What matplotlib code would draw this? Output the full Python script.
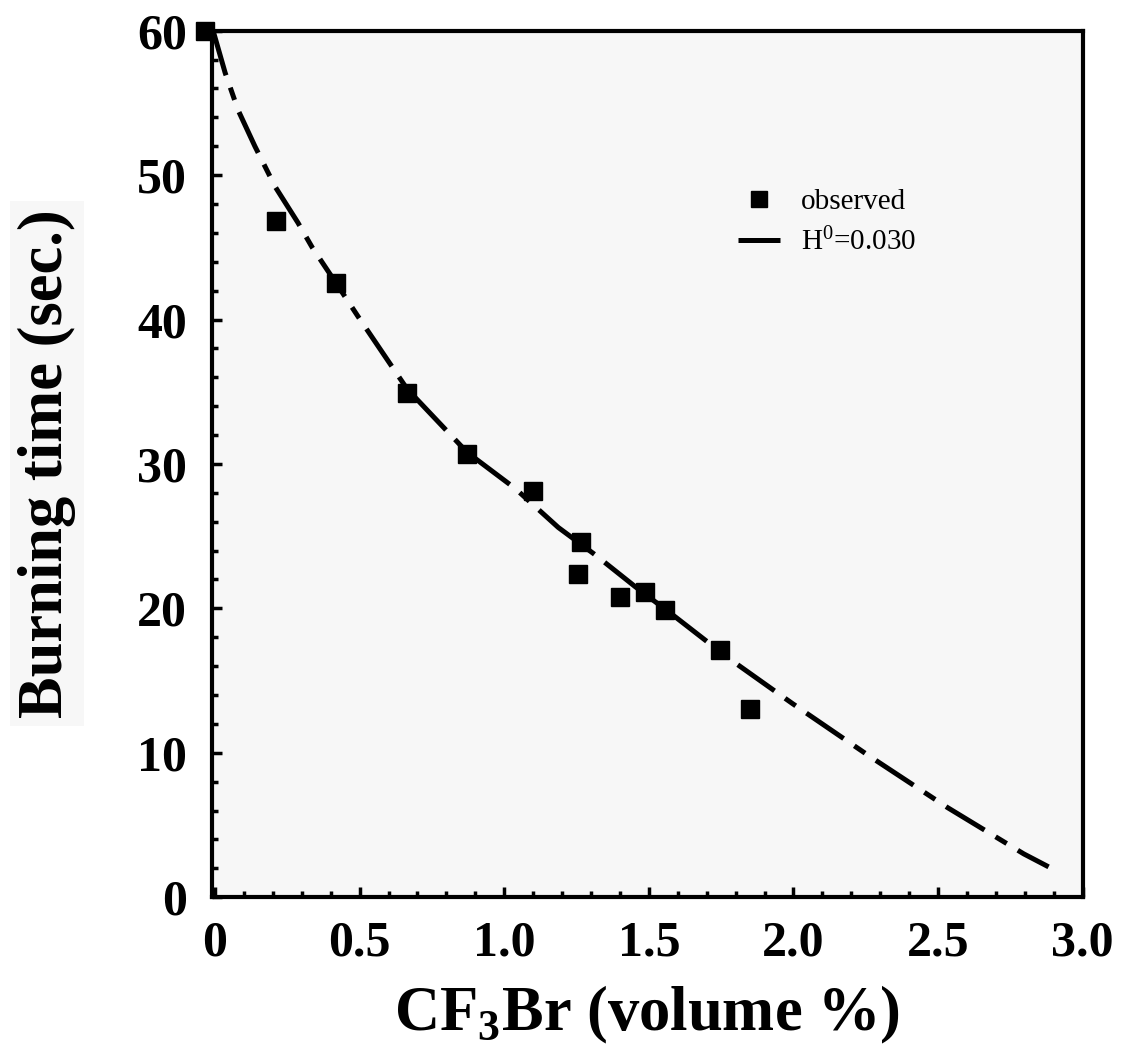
import matplotlib
matplotlib.use("Agg")
import matplotlib.pyplot as plt
from matplotlib.ticker import MultipleLocator, FixedLocator

# ---- data ----
obs_x = [-0.035, 0.211, 0.419, 0.664, 0.872, 1.100, 1.266, 1.256, 1.401, 1.488, 1.557, 1.747, 1.851]
obs_y = [60.0, 46.8, 42.5, 34.9, 30.7, 28.1, 24.6, 22.4, 20.8, 21.1, 19.9, 17.1, 13.0]

fit_x = [-0.005, 0.035, 0.080, 0.138, 0.208, 0.287, 0.336, 0.426, 0.495, 0.664, 0.872,
         1.038, 1.187, 1.315, 1.453, 1.592, 1.772, 1.997, 2.260, 2.533, 2.796, 2.882]
fit_y = [59.9, 57.1, 54.5, 52.0, 49.2, 46.7, 45.0, 42.3, 40.2, 35.2, 30.8,
         28.3, 25.6, 23.7, 21.5, 19.4, 16.6, 13.4, 9.8, 6.2, 3.0, 2.1]

x_ticks = [0, 0.5, 1.0, 1.5, 2.0, 2.5, 3.0]
x_ticklabels = ["0", "0.5", "1.0", "1.5", "2.0", "2.5", "3.0"]
y_ticks = [0, 10, 20, 30, 40, 50, 60]
y_ticklabels = ["0", "10", "20", "30", "40", "50", "60"]

plt.rcParams['font.family'] = ['Liberation Serif', 'DejaVu Serif']

fig = plt.figure(figsize=(11.22, 10.58), dpi=100)
fig.patch.set_facecolor('white')
ax = fig.add_axes([0.189, 0.152, 0.776, 0.819])
ax.set_facecolor('#f7f7f7')

ax.plot(fit_x, fit_y, color='black', lw=3.6, linestyle=(0, (9, 2.6, 2.6, 2.6)),
        label=r'$\mathregular{H^0}$=0.030', zorder=2)
ax.plot(obs_x, obs_y, linestyle='none', marker='s', markersize=13, color='black',
        label='observed', zorder=3, clip_on=False)

ax.set_xlim(-0.01, 3.0)
ax.set_ylim(0, 60)

for s in ax.spines.values():
    s.set_linewidth(3)

ax.xaxis.set_major_locator(FixedLocator(x_ticks))
ax.set_xticklabels(x_ticklabels)
ax.yaxis.set_major_locator(FixedLocator(y_ticks))
ax.set_yticklabels(y_ticklabels)
ax.xaxis.set_minor_locator(MultipleLocator(0.1))
ax.yaxis.set_minor_locator(MultipleLocator(2))
ax.tick_params(which='both', direction='in', top=False, right=False, width=2.5)
ax.tick_params(which='major', length=7)
ax.tick_params(which='minor', length=4)
ax.tick_params(axis='x', which='major', pad=17)
ax.tick_params(axis='y', which='major', pad=18)
for lab in ax.get_xticklabels() + ax.get_yticklabels():
    lab.set_fontsize(36)
    lab.set_fontweight('bold')

ax.set_xlabel(r'CF$_{\mathregular{3}}$Br (volume %)', fontsize=45, fontweight='bold', labelpad=12)
ax.set_ylabel('Burning time (sec.)', fontsize=45, fontweight='bold', labelpad=44,
              bbox=dict(facecolor='#f7f7f7', edgecolor='none', pad=6))

h_line, h_obs = ax.get_legend_handles_labels()[0]
leg = ax.legend([h_obs, h_line], ['observed', r'$\mathregular{H^0}$=0.030'],
                loc='upper left', bbox_to_anchor=(0.604, 0.818), frameon=False,
                fontsize=21, handlelength=1.45, handletextpad=0.7, labelspacing=0.45,
                borderpad=0, borderaxespad=0, markerscale=0.85)

fig.savefig('out.png', dpi=100, facecolor='white')
